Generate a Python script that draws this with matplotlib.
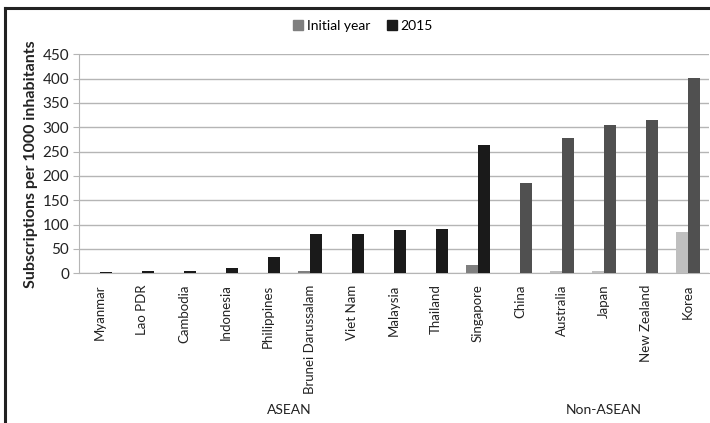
import matplotlib
matplotlib.use("Agg")
import matplotlib.pyplot as plt
from matplotlib.lines import Line2D
from matplotlib.patches import Patch
import numpy as np

plt.rcParams['font.family'] = ['Lato', 'DejaVu Sans']

countries = ["Myanmar", "Lao PDR", "Cambodia", "Indonesia", "Philippines",
             "Brunei Darussalam", "Viet Nam", "Malaysia", "Thailand", "Singapore",
             "China", "Australia", "Japan", "New Zealand", "Korea"]
groups = ["ASEAN"] * 10 + ["Non-ASEAN"] * 5
initial_year = [0, 0, 0, 0, 0, 4, 0, 0, 0, 17, 0.5, 4, 4, 0.5, 84]
y2015 = [3, 5, 5, 11, 33, 80, 81, 89, 91, 264, 185, 278, 304, 315, 401]
yticks = [0, 50, 100, 150, 200, 250, 300, 350, 400, 450]

W, H = 710, 423
fig = plt.figure(figsize=(W / 100, H / 100), dpi=100)
ax = fig.add_axes([79 / W, 1 - 273.3 / H, 630 / W, 219 / H])

x = np.arange(len(countries))
bw = 0.285
is_asean = np.array([g == "ASEAN" for g in groups])
c_init = np.where(is_asean, "#7f7f7f", "#bfbfbf")
c_2015 = np.where(is_asean, "#1a1a1a", "#505050")

ax.bar(x - bw / 2, initial_year, bw, color=c_init, zorder=3)
ax.bar(x + bw / 2, y2015, bw, color=c_2015, zorder=3)

ax.set_xlim(-0.5, len(countries) - 0.5)
ax.set_ylim(0, 450)
ax.set_yticks(yticks)
ax.set_yticklabels([str(t) for t in yticks], fontsize=11, color="#222222")
ax.yaxis.grid(True, color="#b5b5b5", linewidth=1.0, zorder=0)
ax.set_axisbelow(True)
for s in ["top", "right"]:
    ax.spines[s].set_visible(False)
ax.spines["left"].set_color("#b5b5b5")
ax.spines["bottom"].set_color("#b5b5b5")
ax.tick_params(axis="y", length=4, color="#b5b5b5", pad=3)
ax.set_xticks(x)
ax.set_xticklabels(countries, rotation=90, fontsize=9.5, color="#222222", va="top")
ax.tick_params(axis="x", length=0, pad=8)

ax.set_ylabel("Subscriptions per 1000 inhabitants", fontsize=11.5, fontweight="bold",
              color="#222222", labelpad=3)

# group labels
for g in ["ASEAN", "Non-ASEAN"]:
    idx = [i for i, gg in enumerate(groups) if gg == g]
    cx = (idx[0] + idx[-1]) / 2
    xf = ax.transData.transform((cx, 0))[0] / W
    fig.text(xf, 1 - 410 / H, g, ha="center", va="center", fontsize=10, color="#222222")

# legend
handles = [Patch(color="#7f7f7f", label="Initial year"), Patch(color="#1a1a1a", label="2015")]
fig.legend(handles=handles, loc="center", bbox_to_anchor=(363 / W, 1 - 26 / H), ncol=2,
           frameon=False, fontsize=10, handlelength=0.7, handleheight=0.7,
           handletextpad=0.3, columnspacing=1.2)

# frame lines
fig.add_artist(Line2D([5 / W, 5 / W], [0, 1 - 8 / H], color="#222222", linewidth=2.2,
                      transform=fig.transFigure))
fig.add_artist(Line2D([5 / W, 1], [1 - 8 / H, 1 - 8 / H], color="#222222", linewidth=2.2,
                      transform=fig.transFigure))

fig.savefig("out.png", dpi=100)
